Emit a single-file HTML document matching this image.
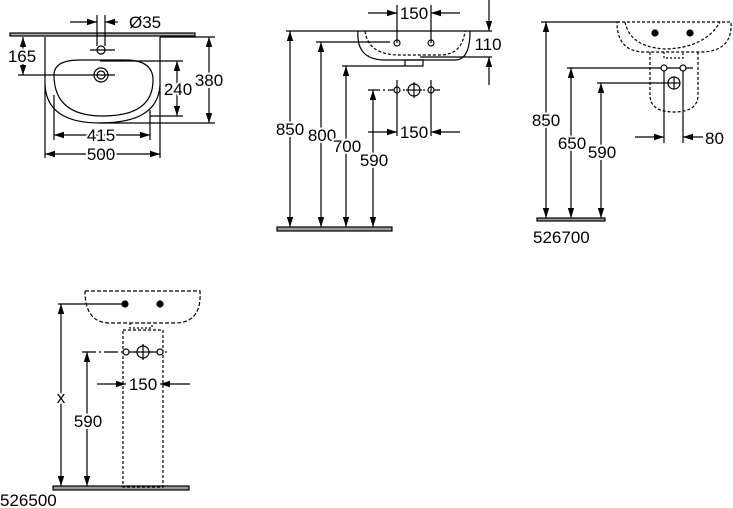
<!DOCTYPE html>
<html><head><meta charset="utf-8"><style>
html,body{margin:0;padding:0;background:#fff;}
svg{display:block}
text{font-family:"Liberation Sans",sans-serif;font-size:17px;fill:#000;paint-order:stroke;stroke:#fff;stroke-width:4px;stroke-linejoin:round}
</style></head><body>
<svg id="sv" width="733" height="508" viewBox="0 0 733 508" xmlns="http://www.w3.org/2000/svg">
<g id="g" stroke="#000" stroke-width="1.2" fill="none">
<!-- VIEW 1 -->
<rect x="10" y="33" width="185" height="3" fill="#aaa"/>
<line x1="45" y1="37" x2="45" y2="158"/><line x1="160" y1="37" x2="160" y2="158"/>
<path d="M45,85 Q47,123 100,123 Q158,123 160,85"/>
<path d="M54,75 Q54,60 80,60 H125 Q153,60 153,80 Q153,116 103,116 Q54,116 54,75Z"/>
<line x1="97" y1="15" x2="97" y2="46"/><line x1="105" y1="15" x2="105" y2="46"/>
<circle cx="101" cy="50" r="4"/>
<circle cx="101" cy="75" r="7"/><circle cx="101" cy="75" r="4"/>
<line class="e" x1="70" y1="22" x2="97" y2="22"/>
<line class="s" x1="105" y1="22" x2="118" y2="22"/>
<line x1="18" y1="75" x2="115" y2="75"/>
<line class="s e" x1="23" y1="37" x2="23" y2="75"/>
<line x1="90" y1="50" x2="115" y2="50"/>
<line x1="100" y1="61" x2="183" y2="61"/><line x1="150" y1="116" x2="183" y2="116"/>
<line class="s e" x1="177" y1="61" x2="177" y2="116"/>
<line x1="160" y1="37" x2="215" y2="37"/><line x1="100" y1="123" x2="215" y2="123"/>
<line class="s e" x1="209" y1="37" x2="209" y2="123"/>
<line x1="54" y1="95" x2="54" y2="140"/><line x1="150" y1="110" x2="150" y2="140"/>
<line class="s e" x1="54" y1="135" x2="150" y2="135"/>
<line class="s e" x1="45" y1="154" x2="160" y2="154"/>

<!-- VIEW 2 -->
<rect x="277" y="227" width="115" height="4" fill="#999"/>
<line x1="286" y1="31" x2="492" y2="31"/>
<path d="M358,31 Q356,60 385,60 H455 Q470,60 470,31"/>
<path d="M365,31 Q368,55 400,55 H440 Q462,55 465,31" stroke-dasharray="3,2"/>
<rect x="405" y="60" width="18" height="6"/>
<line x1="397" y1="5" x2="397" y2="43"/><line x1="431" y1="5" x2="431" y2="43"/>
<circle cx="397" cy="43" r="3"/><circle cx="431" cy="43" r="3"/>
<line class="e" x1="368" y1="13" x2="397" y2="13"/>
<line class="s" x1="431" y1="13" x2="460" y2="13"/>
<line class="e" x1="489" y1="0" x2="489" y2="31"/>
<line class="e" x1="489" y1="85" x2="489" y2="57"/>
<line x1="420" y1="57" x2="492" y2="57"/>
<line class="s e" x1="290" y1="31" x2="290" y2="227"/>
<line x1="316" y1="42" x2="390" y2="42"/>
<line class="s e" x1="321" y1="42" x2="321" y2="227"/>
<line x1="342" y1="66" x2="405" y2="66"/>
<line class="s e" x1="346" y1="66" x2="346" y2="227"/>
<line x1="368" y1="90" x2="442" y2="90" stroke-dasharray="12,3,2,3"/>
<line class="s e" x1="373" y1="90" x2="373" y2="227"/>
<circle cx="397" cy="90" r="3" fill="#fff"/><circle cx="431" cy="90" r="3" fill="#fff"/><circle cx="414" cy="90" r="6" fill="#fff"/>
<line x1="414" y1="82" x2="414" y2="98"/><line x1="406" y1="90" x2="422" y2="90"/>
<line x1="397" y1="80" x2="397" y2="136"/><line x1="431" y1="80" x2="431" y2="136"/>
<line class="e" x1="368" y1="132" x2="397" y2="132"/>
<line class="s" x1="431" y1="132" x2="460" y2="132"/>

<!-- VIEW 3 -->
<rect x="537" y="218" width="68" height="3" fill="#999"/>
<line x1="541" y1="22" x2="620" y2="22"/>
<path d="M617,22 H731 Q733,52 700,52 H645 Q617,52 617,22" stroke-dasharray="3,2"/>
<path d="M625,22 Q630,47 665,49 Q705,48 720,22" stroke-dasharray="3,2"/>
<path d="M650,52 V95 Q650,112 674,112 Q698,112 698,95 V52" stroke-dasharray="3,2"/>
<path d="M664,52 V58 H683 V52" stroke-dasharray="2,2"/>
<circle cx="655" cy="33" r="3" fill="#000"/><circle cx="690" cy="33" r="3" fill="#000"/>
<line class="s e" x1="546" y1="22" x2="546" y2="218"/>
<line x1="567" y1="68" x2="693" y2="68"/>
<line class="s e" x1="571" y1="68" x2="571" y2="218"/>
<line x1="597" y1="83" x2="680" y2="83"/>
<line class="s e" x1="601" y1="83" x2="601" y2="218"/>
<circle cx="664" cy="68" r="3" fill="#fff"/><circle cx="683" cy="68" r="3" fill="#fff"/>
<circle cx="674" cy="83" r="6" fill="#fff"/>
<line x1="674" y1="77" x2="674" y2="89"/><line x1="668" y1="83" x2="680" y2="83"/>
<line x1="664" y1="71" x2="664" y2="143"/><line x1="683" y1="71" x2="683" y2="143"/>
<line class="e" x1="635" y1="137" x2="664" y2="137"/>
<line class="s" x1="683" y1="137" x2="703" y2="137"/>

<!-- VIEW 4 -->
<rect x="53" y="486" width="136" height="4" fill="#999"/>
<path d="M85,291 H200 Q202,323 175,323 H110 Q85,323 85,291" stroke-dasharray="4,2"/>
<rect x="123" y="330" width="40" height="157" stroke-dasharray="3,2"/>
<path d="M130,323 V328 H152 V323" stroke-dasharray="2,2"/>
<circle cx="125" cy="304" r="3" fill="#000"/><circle cx="160" cy="304" r="3" fill="#000"/>
<line x1="58" y1="304" x2="125" y2="304"/>
<line class="s e" x1="61" y1="304" x2="61" y2="486"/>
<line x1="82" y1="352" x2="170" y2="352" stroke-dasharray="14,3,2,3"/>
<line class="s e" x1="87" y1="352" x2="87" y2="486"/>
<circle cx="126" cy="352" r="3" fill="#fff"/><circle cx="160" cy="352" r="3" fill="#fff"/>
<circle cx="143" cy="352" r="6" fill="#fff"/>
<line x1="143" y1="344" x2="143" y2="360"/><line x1="135" y1="352" x2="151" y2="352"/>
<line class="e" x1="97" y1="384" x2="126" y2="384"/>
<line class="s" x1="160" y1="384" x2="190" y2="384"/>
</g>
<g id="ar" fill="#000" stroke="none"></g>
<g>
<text x="129" y="28">Ø35</text>
<text x="22" y="62" text-anchor="middle">165</text>
<text x="178" y="95" text-anchor="middle">240</text>
<text x="209" y="86" text-anchor="middle">380</text>
<text x="101" y="141" text-anchor="middle">415</text>
<text x="101" y="160" text-anchor="middle">500</text>
<text x="414" y="19" text-anchor="middle">150</text>
<text x="488" y="50" text-anchor="middle">110</text>
<text x="290" y="135" text-anchor="middle">850</text>
<text x="322" y="141" text-anchor="middle">800</text>
<text x="347" y="152" text-anchor="middle">700</text>
<text x="374" y="166" text-anchor="middle">590</text>
<text x="414" y="138" text-anchor="middle">150</text>
<text x="546" y="126" text-anchor="middle">850</text>
<text x="572" y="149" text-anchor="middle">650</text>
<text x="602" y="158" text-anchor="middle">590</text>
<text x="705" y="144">80</text>
<text x="533" y="243">526700</text>
<text x="61" y="403" text-anchor="middle">x</text>
<text x="88" y="427" text-anchor="middle">590</text>
<text x="143" y="390" text-anchor="middle">150</text>
<text x="0" y="506">526500</text>
</g>
</svg>
<script>
(function(){
var ns="http://www.w3.org/2000/svg",ar=document.getElementById("ar");
function head(tx,ty,fx,fy){
 var dx=tx-fx,dy=ty-fy,l=Math.sqrt(dx*dx+dy*dy);dx/=l;dy/=l;
 var L=10,W=3.2,bx=tx-dx*L,by=ty-dy*L;
 var p=document.createElementNS(ns,"polygon");
 p.setAttribute("points",tx+","+ty+" "+(bx-dy*W)+","+(by+dx*W)+" "+(bx+dy*W)+","+(by-dx*W));
 ar.appendChild(p);
}
var ls=document.querySelectorAll("#g line");
for(var i=0;i<ls.length;i++){
 var e=ls[i],c=e.getAttribute("class")||"";
 var x1=+e.getAttribute("x1"),y1=+e.getAttribute("y1"),x2=+e.getAttribute("x2"),y2=+e.getAttribute("y2");
 if(c.indexOf("e")>=0)head(x2,y2,x1,y1);
 if(c.indexOf("s")>=0)head(x1,y1,x2,y2);
}
})();
</script>
</body></html>
